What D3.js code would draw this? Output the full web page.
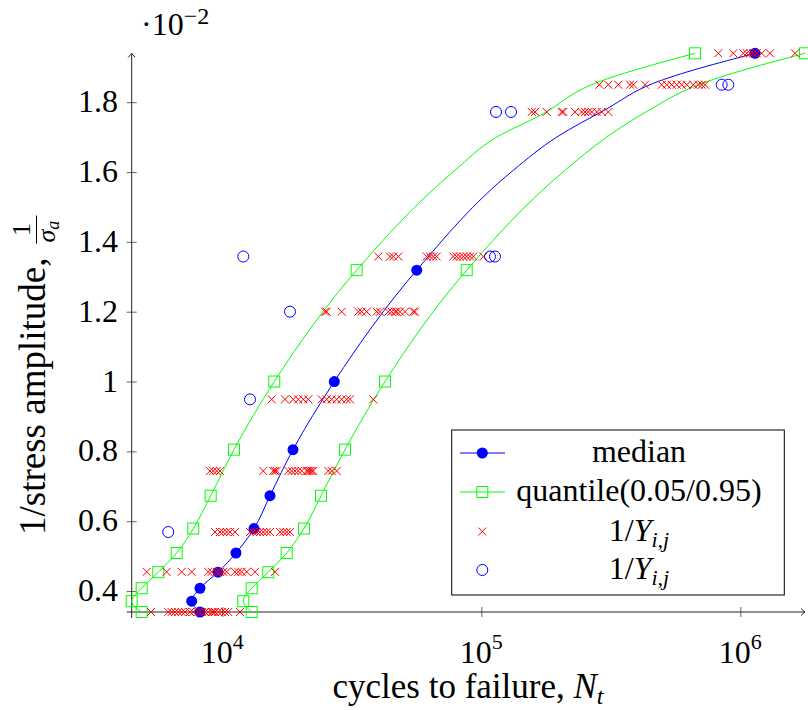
<!DOCTYPE html>
<html><head><meta charset="utf-8">
<script src="https://cdn.jsdelivr.net/npm/d3@7"></script>
<style>
body{margin:0;background:#fff}
svg{display:block}
text{font-family:"Liberation Serif","Times New Roman",serif;fill:#000}
</style>
</head><body>
<svg id="chart" width="808" height="710"></svg>
<script>
// ---------------- data (values in units of 1e-2) ----------------
const xTickValues = [1e4, 1e5, 1e6];
const xTickExps = ["4", "5", "6"];
const yTickValues = [0.4, 0.6, 0.8, 1.0, 1.2, 1.4, 1.6, 1.8];
const yTickLabels = ["0.4", "0.6", "0.8", "1", "1.2", "1.4", "1.6", "1.8"];

// median (markers)
const medianY = [0.34, 0.371, 0.408, 0.454, 0.509, 0.579, 0.673, 0.805, 1.0, 1.319, 1.94];
const medianN = [8202, 7619, 8202, 9625, 11294, 13258, 15281, 18750, 27070, 56320, 1140000];
// median line (markers + read vertices at the top)
const medianLineY = [0.34, 0.371, 0.408, 0.454, 0.509, 0.579, 0.673, 0.805, 1.0, 1.319, 1.605, 1.70, 1.781, 1.854, 1.94];
const medianLineN = [8202, 7619, 8202, 9625, 11294, 13258, 15281, 18750, 27070, 56320, 132900, 195500, 305000, 461500, 1140000];

// lower quantile 0.05 (left curve)
const q05Y = [0.34, 0.371, 0.408, 0.454, 0.509, 0.579, 0.673, 0.805, 1.0, 1.319, 1.94];
const q05N = [4884, 4470, 4884, 5662, 6667, 7727, 9020, 11095, 15875, 33030, 668600];
const q05LineY = [0.34, 0.371, 0.408, 0.454, 0.509, 0.579, 0.673, 0.805, 1.0, 1.319, 1.605, 1.70, 1.762, 1.854, 1.94];
const q05LineN = [4884, 4470, 4884, 5662, 6667, 7727, 9020, 11095, 15875, 33030, 79140, 114700, 168500, 274800, 668600];

// upper quantile 0.95 (right curve)
const q95Y = [0.34, 0.371, 0.408, 0.454, 0.509, 0.579, 0.673, 0.805, 1.0, 1.319, 1.94];
const q95N = [12987, 12053, 12987, 15050, 17727, 20676, 24050, 29770, 42490, 87840, 1777000];
const q95LineY = [0.34, 0.371, 0.408, 0.454, 0.509, 0.579, 0.673, 0.805, 1.0, 1.319, 1.605, 1.70, 1.776, 1.848, 1.94];
const q95LineN = [12987, 12053, 12987, 15050, 17727, 20676, 24050, 29770, 42490, 87840, 210500, 305000, 441500, 678800, 1777000];

// red crosses 1/Y_ij, one array per stress level
const crossLevels = [0.34, 0.455, 0.569, 0.744, 0.949, 1.2, 1.358, 1.772, 1.85, 1.94];
const cross034 = [5305, 6186, 6377, 6568, 6763, 6970, 7178, 7504, 7727, 8078, 8327, 8575, 8829, 9102, 9232, 9372, 9651, 9947, 10243, 10548, 11706];
const cross046 = [5107, 6099, 6970, 7619, 8829, 9102, 9515, 9797, 10089, 10399, 11194, 11531, 11884, 12425, 13378, 15974];
const cross057 = [9372, 9797, 10089, 10399, 10708, 11194, 12794, 13174, 13577, 13980, 14396, 14837, 15281, 16706, 17202, 17727, 18257];
const cross074 = [8965, 9232, 9515, 9797, 14396, 15733, 15974, 16218, 17982, 18535, 19085, 19651, 20258, 21176, 21478, 21807, 22142, 22459, 25664, 26450, 27646];
const cross095 = [15510, 17464, 18796, 19651, 20545, 21478, 24200, 25300, 26450, 27646, 28906, 30218, 31117, 38282];
const cross120 = [24920, 25300, 28906, 33504, 34530, 36098, 39462, 40640, 43750, 45082, 46430, 47140, 48540, 50750, 54640, 55465];
const cross136 = [40034, 44410, 45728, 47806, 61540, 63370, 65250, 67250, 77950, 80350, 82750, 85220, 87840, 90440, 93130, 101790];
const cross177 = [156580, 161240, 178880, 204400, 207370, 230060, 244120, 251390, 258880, 266860, 278980, 291640, 309240];
const cross185 = [285470, 309240, 338040, 375160, 386360, 428550, 497200, 519800, 543480, 568180, 593990, 621130, 658550, 688450, 709620, 730730];
const cross194 = [822240, 939770, 1027000, 1058500, 1090200, 1122600, 1157000, 1209500, 1302100, 1626500];
const crossRows = [cross034, cross046, cross057, cross074, cross095, cross120, cross136, cross177, cross185, cross194];

// blue open circles 1/Y_ij
const circleN = [6186, 12053, 12794, 18257, 108050, 112950, 113970, 130220, 847610, 898850];
const circleY = [0.569, 1.358, 0.949, 1.2, 1.358, 1.358, 1.772, 1.772, 1.85, 1.85];

const legendLabels = ["median", "quantile(0.05/0.95)", "1/Y", "1/Y"];

// ---------------- drawing ----------------
const svg = d3.select("#chart");
const x = d3.scaleLog().domain([4470, 1.777e6]).range([131.7, 805]);
const y = d3.scaleLinear().domain([0.34, 1.94]).range([612, 53.3]);
const FS = 32, FSS = 22, FT = 35;
const BLUE = "#0000ff", GREEN = "#00ff00", RED = "#ff0000";

// axes
const axisX = svg.append("g").attr("transform", `translate(0,${y(0.34)})`)
  .call(d3.axisBottom(x).tickValues(xTickValues).tickFormat("").tickSizeOuter(0));
axisX.select(".domain").remove();
axisX.selectAll(".tick line").attr("y1", -5).attr("y2", 5).attr("stroke", "#666");

const axisY = svg.append("g").attr("transform", `translate(${x(4470)},0)`)
  .call(d3.axisLeft(y).tickValues(yTickValues).tickFormat("").tickSizeOuter(0));
axisY.select(".domain").remove();
axisY.selectAll(".tick line").attr("x1", -5).attr("x2", 5).attr("stroke", "#666");

const x0 = x(4470), y0 = y(0.34), xEnd = x(1.777e6), yEnd = y(1.94);
svg.append("line").attr("x1", x0 - 5).attr("x2", xEnd).attr("y1", y0).attr("y2", y0)
  .attr("stroke", "#222").attr("stroke-width", 1);
svg.append("line").attr("x1", x0).attr("x2", x0).attr("y1", y0 + 6).attr("y2", yEnd)
  .attr("stroke", "#222").attr("stroke-width", 1);
svg.append("path").attr("d", `M${xEnd-4},${y0-3.5} Q${xEnd-1},${y0-0.6} ${xEnd},${y0} Q${xEnd-1},${y0+0.6} ${xEnd-4},${y0+3.5}`)
  .attr("fill", "none").attr("stroke", "#222").attr("stroke-width", 1);
svg.append("path").attr("d", `M${x0-3.5},${yEnd+4} Q${x0-0.6},${yEnd+1} ${x0},${yEnd} Q${x0+0.6},${yEnd+1} ${x0+3.5},${yEnd+4}`)
  .attr("fill", "none").attr("stroke", "#222").attr("stroke-width", 1);

// x tick labels 10^k
xTickValues.forEach((v, i) => {
  const t = svg.append("text").attr("x", x(v)).attr("y", 663).attr("text-anchor", "middle").attr("font-size", FS);
  t.append("tspan").text("10");
  t.append("tspan").attr("dy", -14).attr("font-size", FSS).text(xTickExps[i]);
});
// y tick labels
yTickValues.forEach((v, i) => {
  svg.append("text").attr("x", 118).attr("y", y(v) + 10).attr("text-anchor", "end")
    .attr("font-size", FS).text(yTickLabels[i]);
});
// scale label
const sc = svg.append("text").attr("x", 141).attr("y", 35).attr("font-size", FS);
sc.append("tspan").text("·10");
sc.append("tspan").attr("dy", -11).attr("font-size", 24).text("−2");

// x axis title
const xt = svg.append("text").attr("x", 468).attr("y", 698).attr("text-anchor", "middle").attr("font-size", FT);
xt.append("tspan").text("cycles to failure, ");
xt.append("tspan").attr("font-style", "italic").text("N");
xt.append("tspan").attr("font-style", "italic").attr("font-size", 24).attr("dy", 6).text("t");

// y axis title (rotated)
const yg = svg.append("g").attr("transform", "translate(45,535) rotate(-90)");
const ytxt = yg.append("text").attr("x", 0).attr("y", 0).attr("font-size", 37).text("1/stress amplitude,");
const L = ytxt.node().getComputedTextLength();
const fx = L + 14;
yg.append("text").attr("x", fx + 14).attr("y", -15).attr("text-anchor", "middle").attr("font-size", 26).text("1");
yg.append("line").attr("x1", fx).attr("x2", fx + 28).attr("y1", -8.5).attr("y2", -8.5).attr("stroke", "#000").attr("stroke-width", 1);
const den = yg.append("text").attr("x", fx + 1).attr("y", 10).attr("font-size", 26).attr("font-style", "italic");
den.append("tspan").text("σ");
den.append("tspan").attr("font-size", 18).attr("dy", 4).text("a");

// curves
function linePts(N, Y) { return N.map((n, i) => [x(n), y(Y[i])]).sort((a, b) => a[1] - b[1]); }
const lineGen = d3.line().curve(d3.curveMonotoneY);
svg.append("path").attr("d", lineGen(linePts(medianLineN, medianLineY)))
  .attr("fill", "none").attr("stroke", BLUE).attr("stroke-width", 1);
svg.selectAll("circle.med").data(medianN).join("circle").attr("class", "med")
  .attr("cx", d => x(d)).attr("cy", (d, i) => y(medianY[i])).attr("r", 5.5).attr("fill", BLUE);

[[q05LineN, q05LineY, q05N, q05Y], [q95LineN, q95LineY, q95N, q95Y]].forEach(([ln, ly, mn, my]) => {
  svg.append("path").attr("d", lineGen(linePts(ln, ly)))
    .attr("fill", "none").attr("stroke", GREEN).attr("stroke-width", 1);
  svg.append("g").selectAll("rect").data(mn).join("rect")
    .attr("x", d => x(d) - 5.5).attr("y", (d, i) => y(my[i]) - 5.5)
    .attr("width", 11).attr("height", 11).attr("fill", "none").attr("stroke", GREEN).attr("stroke-width", 1);
});

// crosses
function crossPath(cx, cy, s) { return `M${cx-s},${cy-s}L${cx+s},${cy+s}M${cx-s},${cy+s}L${cx+s},${cy-s}`; }
crossRows.forEach((row, r) => {
  svg.append("g").selectAll("path").data(row).join("path")
    .attr("d", d => crossPath(x(d), y(crossLevels[r]), 4))
    .attr("stroke", RED).attr("stroke-width", 1).attr("fill", "none");
});

// open circles
svg.append("g").selectAll("circle").data(circleN).join("circle")
  .attr("cx", d => x(d)).attr("cy", (d, i) => y(circleY[i])).attr("r", 5.5)
  .attr("fill", "none").attr("stroke", BLUE).attr("stroke-width", 1);

// legend
const lg = svg.append("g");
lg.append("rect").attr("x", 451.7).attr("y", 430).attr("width", 332.6).attr("height", 165)
  .attr("fill", "#fff").attr("stroke", "#000").attr("stroke-width", 1);
const rowsY = [453, 492, 531.5, 570];
const mx = 482.3, tx = 639;
lg.append("line").attr("x1", 460).attr("x2", 505).attr("y1", rowsY[0]).attr("y2", rowsY[0]).attr("stroke", BLUE);
lg.append("circle").attr("cx", mx).attr("cy", rowsY[0]).attr("r", 5.5).attr("fill", BLUE);
lg.append("line").attr("x1", 460).attr("x2", 505).attr("y1", rowsY[1]).attr("y2", rowsY[1]).attr("stroke", GREEN);
lg.append("rect").attr("x", mx - 5.5).attr("y", rowsY[1] - 5.5).attr("width", 11).attr("height", 11)
  .attr("fill", "none").attr("stroke", GREEN);
lg.append("path").attr("d", crossPath(mx, rowsY[2], 4)).attr("stroke", RED).attr("fill", "none");
lg.append("circle").attr("cx", mx).attr("cy", rowsY[3]).attr("r", 5.5).attr("fill", "none").attr("stroke", BLUE);
legendLabels.forEach((lab, i) => {
  const t = lg.append("text").attr("x", tx).attr("y", rowsY[i] + 9).attr("text-anchor", "middle").attr("font-size", FS);
  if (i < 2) { t.text(lab); }
  else {
    t.append("tspan").text("1/");
    t.append("tspan").attr("font-style", "italic").text("Y");
    t.append("tspan").attr("font-style", "italic").attr("font-size", FSS).attr("dy", 6).text("i,j");
  }
});
</script>
</body></html>
